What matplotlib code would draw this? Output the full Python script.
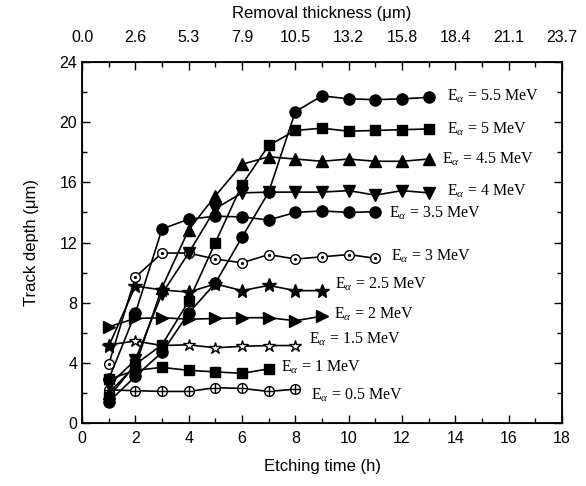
import matplotlib
matplotlib.use("Agg")
import matplotlib.pyplot as plt
from matplotlib.ticker import MultipleLocator

plt.rcParams['font.family'] = ['Liberation Sans', 'DejaVu Sans']
plt.rcParams['mathtext.fontset'] = 'custom'
plt.rcParams['mathtext.rm'] = 'Liberation Serif'
plt.rcParams['mathtext.it'] = 'Liberation Serif:italic'

# Etching time (h) per series
t_05 = [1, 2, 3, 4, 5, 6, 7, 8]
d_05 = [2.2, 2.15, 2.1, 2.1, 2.35, 2.3, 2.1, 2.25]
t_10 = [1, 2, 3, 4, 5, 6, 7]
d_10 = [2.9, 3.5, 3.7, 3.5, 3.4, 3.3, 3.6]
t_15 = [1, 2, 3, 4, 5, 6, 7, 8]
d_15 = [5.2, 5.45, 5.15, 5.2, 5.0, 5.1, 5.15, 5.15]
t_20 = [1, 2, 3, 4, 5, 6, 7, 8, 9]
d_20 = [6.4, 6.95, 7.0, 6.9, 6.95, 7.0, 7.0, 6.8, 7.1]
t_25 = [1, 2, 3, 4, 5, 6, 7, 8, 9]
d_25 = [5.1, 9.1, 8.85, 8.7, 9.25, 8.8, 9.15, 8.8, 8.8]
t_30 = [1, 2, 3, 4, 5, 6, 7, 8, 9, 10, 11]
d_30 = [3.9, 9.7, 11.3, 11.3, 10.9, 10.65, 11.2, 10.9, 11.05, 11.2, 10.95]
t_35 = [1, 2, 3, 4, 5, 6, 7, 8, 9, 10, 11]
d_35 = [2.9, 7.3, 12.9, 13.55, 13.75, 13.7, 13.5, 14.0, 14.1, 14.0, 14.05]
t_40 = [1, 2, 3, 4, 5, 6, 7, 8, 9, 10, 11, 12, 13]
d_40 = [2.5, 4.2, 8.6, 11.3, 14.25, 15.3, 15.35, 15.35, 15.35, 15.45, 15.15, 15.45, 15.3]
t_45 = [1, 2, 3, 4, 5, 6, 7, 8, 9, 10, 11, 12, 13]
d_45 = [2.0, 3.8, 9.0, 12.85, 15.1, 17.2, 17.7, 17.55, 17.4, 17.55, 17.4, 17.4, 17.55]
t_50 = [1, 2, 3, 4, 5, 6, 7, 8, 9, 10, 11, 12, 13]
d_50 = [1.7, 3.9, 5.2, 8.1, 12.0, 15.85, 18.45, 19.45, 19.6, 19.4, 19.45, 19.5, 19.55]
t_55 = [1, 2, 3, 4, 5, 6, 7, 8, 9, 10, 11, 12, 13]
d_55 = [1.4, 3.1, 4.7, 7.3, 9.3, 12.35, 15.35, 20.7, 21.75, 21.55, 21.5, 21.55, 21.65]

labels = ['0.5', '1', '1.5', '2', '2.5', '3', '3.5', '4', '4.5', '5', '5.5']
label_x = [8.6, 7.45, 8.5, 9.45, 9.5, 11.6, 11.5, 13.7, 13.5, 13.7, 13.7]
label_y = [1.85, 3.7, 5.55, 7.25, 9.25, 11.1, 13.95, 15.4, 17.55, 19.5, 21.7]

top_labels = ['0.0', '2.6', '5.3', '7.9', '10.5', '13.2', '15.8', '18.4', '21.1', '23.7']
x_ticks = [0, 2, 4, 6, 8, 10, 12, 14, 16, 18]

fig = plt.figure(figsize=(5.86, 4.86), dpi=100)
ax = fig.add_axes([0.140, 0.1296, 0.819, 0.7428])

lw = 1.2
ms = 7
common = dict(color='black', lw=lw, mec='black', mew=1.0)

# 0.5 MeV: circled plus
ax.plot(t_05, d_05, marker='o', ms=ms, mfc='white', **common)
ax.plot(t_05, d_05, ls='none', marker='+', ms=ms, color='black', mew=1.0)
ax.plot(t_10, d_10, marker='s', ms=ms - 0.5, mfc='black', **common)
ax.plot(t_15, d_15, marker='*', ms=ms + 2, mfc='white', **common)
ax.plot(t_20, d_20, marker='>', ms=ms + 1, mfc='black', **common)
ax.plot(t_25, d_25, marker='*', ms=ms + 3, mfc='black', **common)
# 3 MeV: circled dot
ax.plot(t_30, d_30, marker='o', ms=ms, mfc='white', **common)
ax.plot(t_30, d_30, ls='none', marker='.', ms=2.5, color='black')
ax.plot(t_35, d_35, marker='o', ms=ms + 1, mfc='black', **common)
ax.plot(t_40, d_40, marker='v', ms=ms + 1, mfc='black', **common)
ax.plot(t_45, d_45, marker='^', ms=ms + 1, mfc='black', **common)
ax.plot(t_50, d_50, marker='s', ms=ms - 0.5, mfc='black', **common)
ax.plot(t_55, d_55, marker='o', ms=ms + 1, mfc='black', **common)

for lab, lx, ly in zip(labels, label_x, label_y):
    ax.text(lx, ly, r'E$_{\alpha}$ = ' + lab + ' MeV', fontsize=11.5,
            family='Liberation Serif', va='center', ha='left')

ax.set_xlim(0, 18)
ax.set_ylim(0, 24)
ax.set_xticks(x_ticks)
ax.xaxis.set_minor_locator(MultipleLocator(1))
ax.yaxis.set_major_locator(MultipleLocator(4))
ax.yaxis.set_minor_locator(MultipleLocator(2))
ax.tick_params(which='both', direction='in', top=False, right=True, labelsize=11.5, width=1.0)
ax.tick_params(which='major', length=6)
ax.tick_params(which='minor', length=3.5)
ax.tick_params(axis='x', pad=6)
for s in ax.spines.values():
    s.set_linewidth(1.3)

ax.set_xlabel('Etching time (h)', fontsize=12, labelpad=9)
ax.set_ylabel('Track depth (μm)', fontsize=12, labelpad=15)

ax2 = ax.twiny()
ax2.set_xlim(ax.get_xlim())
ax2.set_xticks(x_ticks)
ax2.set_xticklabels(top_labels)
ax2.xaxis.set_minor_locator(MultipleLocator(1))
ax2.tick_params(which='both', direction='in', labelsize=11.5, width=1.0, pad=12)
ax2.tick_params(which='major', length=6)
ax2.tick_params(which='minor', length=3.5)
ax2.set_xlabel('Removal thickness (μm)', fontsize=12, labelpad=9)

fig.savefig('out.png', dpi=100)
